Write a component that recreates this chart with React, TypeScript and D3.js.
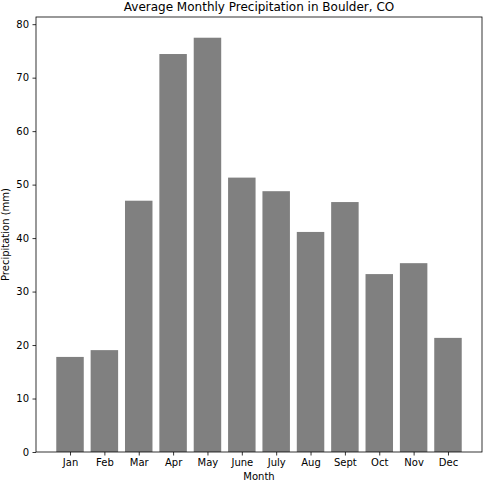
import React, { useEffect, useRef } from 'react';
import * as d3 from 'd3';

const months: string[] = ['Jan', 'Feb', 'Mar', 'Apr', 'May', 'June', 'July', 'Aug', 'Sept', 'Oct', 'Nov', 'Dec'];
const precip: number[] = [17.78, 19.05, 46.99, 74.42, 77.47, 51.31, 48.77, 41.15, 46.74, 33.27, 35.31, 21.34];
const yTicks: number[] = [0, 10, 20, 30, 40, 50, 60, 70, 80];

const width = 483;
const height = 481;
const margin = { top: 17, right: 1, bottom: 29, left: 36 };

const App: React.FC = () => {
	const ref = useRef<SVGSVGElement>(null);

	useEffect(() => {
		const svg = d3.select(ref.current);
		svg.selectAll('*').remove();
		const innerWidth = width - margin.left - margin.right;
		const innerHeight = height - margin.top - margin.bottom;
		const font = 'DejaVu Sans, sans-serif';

		// matplotlib style: bars of width 0.8 with 5% margins
		const lo = -0.4, hi = months.length - 1 + 0.4;
		const pad = (hi - lo) * 0.05;
		const x = d3.scaleLinear().domain([lo - pad, hi + pad]).range([0, innerWidth]);
		const yMax = d3.max(precip)! * 1.05;
		const y = d3.scaleLinear().domain([0, yMax]).range([innerHeight, 0]);

		const g = svg.append('g').attr('transform', `translate(${margin.left},${margin.top})`);

		g.selectAll('rect.bar')
			.data(precip)
			.enter()
			.append('rect')
			.attr('class', 'bar')
			.attr('x', (d, i) => x(i - 0.4))
			.attr('width', x(0.8) - x(0))
			.attr('y', (d) => y(d))
			.attr('height', (d) => y(0) - y(d))
			.attr('fill', '#808080');

		const xAxis = d3
			.axisBottom(x)
			.tickValues(months.map((m, i) => i))
			.tickFormat((d) => months[d as number])
			.tickSize(3.5)
			.tickPadding(3.5);
		const gx = g.append('g').attr('transform', `translate(0,${innerHeight})`).call(xAxis);

		const yAxis = d3.axisLeft(y).tickValues(yTicks).tickSize(3.5).tickPadding(3.5);
		const gy = g.append('g').call(yAxis);

		[gx, gy].forEach((a) => {
			a.select('.domain').remove();
			a.selectAll('text').attr('font-family', font).attr('font-size', 10).attr('fill', '#000');
			a.selectAll('line').attr('stroke', '#000').attr('stroke-width', 0.8);
		});

		// frame
		g.append('rect')
			.attr('x', 0)
			.attr('y', 0)
			.attr('width', innerWidth)
			.attr('height', innerHeight)
			.attr('fill', 'none')
			.attr('stroke', '#000')
			.attr('stroke-width', 0.8);

		g.append('text')
			.attr('x', innerWidth / 2)
			.attr('y', -6)
			.attr('text-anchor', 'middle')
			.attr('font-family', font)
			.attr('font-size', 12)
			.text('Average Monthly Precipitation in Boulder, CO');

		g.append('text')
			.attr('x', innerWidth / 2)
			.attr('y', innerHeight + 28)
			.attr('text-anchor', 'middle')
			.attr('font-family', font)
			.attr('font-size', 10)
			.text('Month');

		g.append('text')
			.attr('transform', `translate(${-27},${innerHeight / 2}) rotate(-90)`)
			.attr('text-anchor', 'middle')
			.attr('font-family', font)
			.attr('font-size', 10)
			.text('Precipitation (mm)');
	}, []);

	return (
		<svg ref={ref} width={width} height={height} style={{ position: 'absolute', left: 0, top: 0, background: '#fff' }} />
	);
};

export default App;
